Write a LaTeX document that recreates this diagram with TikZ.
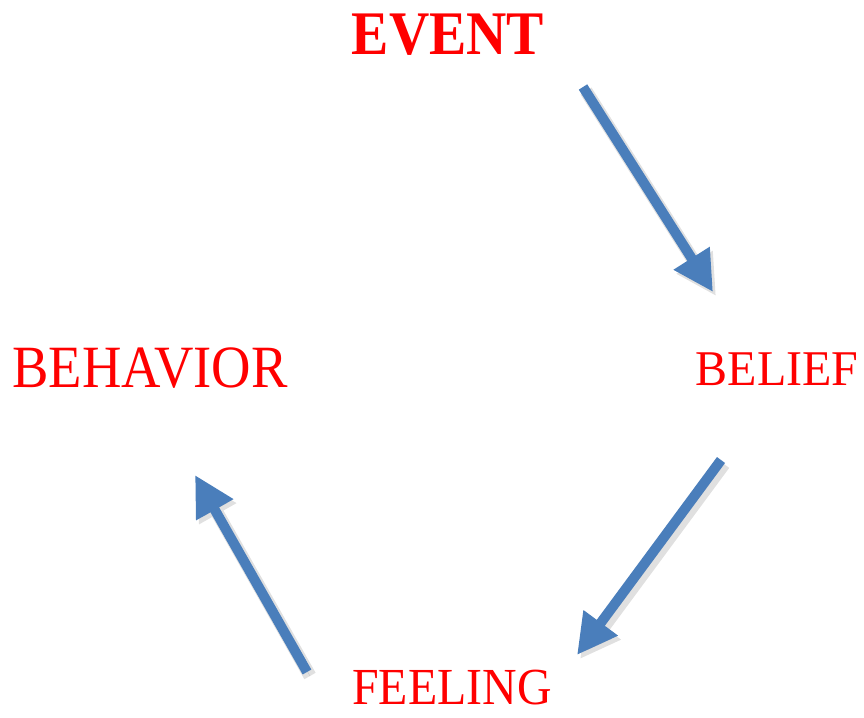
\documentclass[tikz,border=0pt]{standalone}
\usepackage{fontspec}
\setmainfont{Liberation Serif}
\usepackage{xcolor}
\usetikzlibrary{positioning, arrows.meta}

\definecolor{stepred}{RGB}{255,0,0}
\definecolor{arrowblue}{RGB}{74,126,187}

\tikzset{
  label text/.style={text=stepred, inner sep=0pt, text depth=0pt, anchor=base},
  cycle arrow/.style={draw=arrowblue, line width=10pt,
    -{Triangle[width=40pt, length=40pt]},
    preaction={draw=black!12, line width=13pt, transform canvas={shift={(3pt,-4pt)}}},
    preaction={draw=black!22, transform canvas={shift={(3pt,-4pt)}}}}
}

\begin{document}
\begin{tikzpicture}[x=1pt, y=-1pt]
          \useasboundingbox (0,0) rectangle (864,717);

          \node[label text, xscale=0.90, font=\fontsize{62}{64}\selectfont\bfseries] (event) at (448, 55) {EVENT};
          \node[label text, xscale=0.96, font=\fontsize{50}{52}\selectfont] (belief) at (777, 385) {BELIEF};
          \node[label text, xscale=0.92, font=\fontsize{52}{54}\selectfont] (feeling) at (452, 704) {FEELING};
          \node[label text, xscale=0.91, font=\fontsize{60}{62}\selectfont] (behavior) at (150, 387) {BEHAVIOR};

          \coordinate (e1) at (583, 87);
          \coordinate (e2) at (713, 292);
          \coordinate (b1) at (721, 460);
          \coordinate (b2) at (577, 655);
          \coordinate (f1) at (307, 672);
          \coordinate (f2) at (195, 475);

          \draw[cycle arrow] (e1) -- (e2);
          \draw[cycle arrow] (b1) -- (b2);
          \draw[cycle arrow] (f1) -- (f2);
        \end{tikzpicture}
\end{document}
